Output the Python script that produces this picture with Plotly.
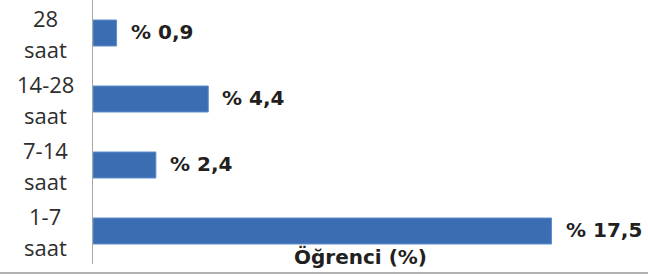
import plotly.graph_objects as go

categories = ["28<br>saat", "14-28<br>saat", "7-14<br>saat", "1-7<br>saat"]
values = [0.9, 4.4, 2.4, 17.5]
value_labels = ["% 0,9", "% 4,4", "% 2,4", "% 17,5"]
axis_title = "Öğrenci (%)"

W, H = 648, 277
ml, mr, mt, mb = 93, 0, 0, 13
pw = W - ml - mr
ph = H - mt - mb
px_per_unit = 26.2
xmax = pw / px_per_unit

fig = go.Figure()
fig.add_trace(go.Bar(
    x=values, y=categories, orientation="h",
    marker=dict(color="#3a6db2", line=dict(color="#5f8fcc", width=1)),
    width=0.394, hoverinfo="skip",
))

ann = []
for c in categories:
    first, second = c.split("<br>")
    for txt, shift in ((first, 15), (second, -16)):
        ann.append(dict(x=(45 - ml) / pw, xref="paper", y=c, yref="y", text=txt,
                        showarrow=False, xanchor="center", yanchor="middle", yshift=shift,
                        font=dict(family="Open Sans", size=22, color="#2e2e2e")))
for c, v, t in zip(categories, values, value_labels):
    ann.append(dict(x=v, xref="x", y=c, yref="y", text="<b>" + t + "</b>",
                    showarrow=False, xanchor="left", yanchor="middle", xshift=12, yshift=1,
                    font=dict(family="DejaVu Sans", size=20, color="#231f20")))
ann.append(dict(x=(360 - ml) / pw, xref="paper", y=(ph - 257) / ph, yref="paper",
                text="<b>" + axis_title + "</b>", showarrow=False,
                xanchor="center", yanchor="middle",
                font=dict(family="DejaVu Sans", size=20, color="#231f20")))

fig.update_layout(
    width=W, height=H,
    margin=dict(l=ml, r=mr, t=mt, b=mb, pad=0),
    paper_bgcolor="white", plot_bgcolor="white",
    showlegend=False,
    annotations=ann,
    xaxis=dict(range=[0, xmax], visible=False, fixedrange=True),
    yaxis=dict(autorange="reversed", showticklabels=False, showgrid=False, fixedrange=True,
               showline=True, linecolor="#a6a6a6", linewidth=1, ticks="", zeroline=False),
    shapes=[dict(type="line", xref="paper", yref="paper",
                 x0=-ml / pw, x1=1, y0=-(273 - ph) / ph, y1=-(273 - ph) / ph,
                 line=dict(color="#999999", width=1.5))],
)

fig.write_html("out.html", config={"displayModeBar": False, "staticPlot": True},
               post_script="document.body.style.margin='0';document.body.style.overflow='hidden';")
